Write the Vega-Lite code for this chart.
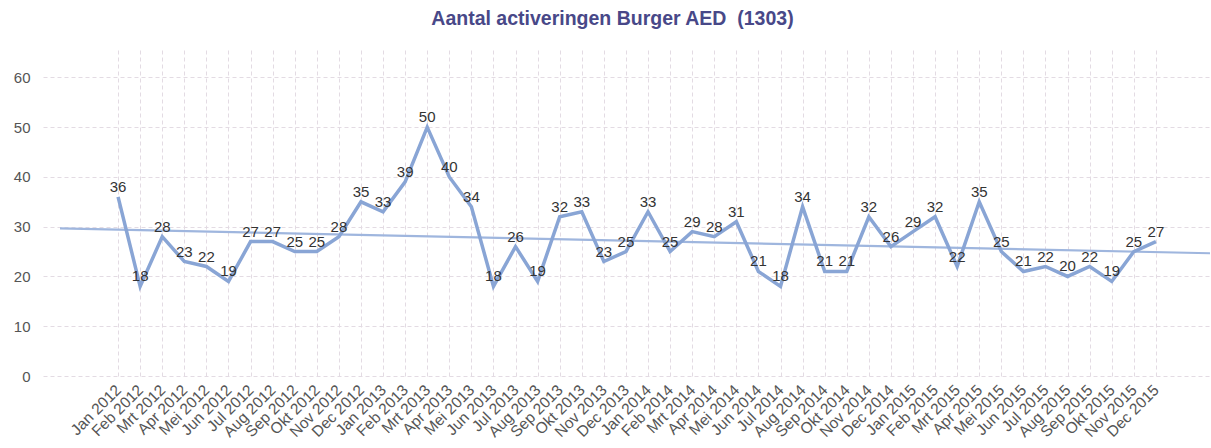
{
  "$schema": "https://vega.github.io/schema/vega-lite/v6.json",
  "autosize": "none",
  "width": 1167,
  "height": 326,
  "padding": {"left": 43, "top": 50, "right": 1, "bottom": 72},
  "background": "white",
  "title": {
    "text": "Aantal activeringen Burger AED \u00a0(1303)",
    "font": "Liberation Sans",
    "fontSize": 19.5,
    "fontWeight": "bold",
    "color": "#484888",
    "offset": 21,
    "dx": -14
  },
  "data": {
    "values": [
      {"i": 0, "month": "Jan 2012", "v": 36}, {"i": 1, "month": "Feb 2012", "v": 18},
      {"i": 2, "month": "Mrt 2012", "v": 28}, {"i": 3, "month": "Apr 2012", "v": 23},
      {"i": 4, "month": "Mei 2012", "v": 22}, {"i": 5, "month": "Jun 2012", "v": 19},
      {"i": 6, "month": "Jul 2012", "v": 27}, {"i": 7, "month": "Aug 2012", "v": 27},
      {"i": 8, "month": "Sep 2012", "v": 25}, {"i": 9, "month": "Okt 2012", "v": 25},
      {"i": 10, "month": "Nov 2012", "v": 28}, {"i": 11, "month": "Dec 2012", "v": 35},
      {"i": 12, "month": "Jan 2013", "v": 33}, {"i": 13, "month": "Feb 2013", "v": 39},
      {"i": 14, "month": "Mrt 2013", "v": 50}, {"i": 15, "month": "Apr 2013", "v": 40},
      {"i": 16, "month": "Mei 2013", "v": 34}, {"i": 17, "month": "Jun 2013", "v": 18},
      {"i": 18, "month": "Jul 2013", "v": 26}, {"i": 19, "month": "Aug 2013", "v": 19},
      {"i": 20, "month": "Sep 2013", "v": 32}, {"i": 21, "month": "Okt 2013", "v": 33},
      {"i": 22, "month": "Nov 2013", "v": 23}, {"i": 23, "month": "Dec 2013", "v": 25},
      {"i": 24, "month": "Jan 2014", "v": 33}, {"i": 25, "month": "Feb 2014", "v": 25},
      {"i": 26, "month": "Mrt 2014", "v": 29}, {"i": 27, "month": "Apr 2014", "v": 28},
      {"i": 28, "month": "Mei 2014", "v": 31}, {"i": 29, "month": "Jun 2014", "v": 21},
      {"i": 30, "month": "Jul 2014", "v": 18}, {"i": 31, "month": "Aug 2014", "v": 34},
      {"i": 32, "month": "Sep 2014", "v": 21}, {"i": 33, "month": "Okt 2014", "v": 21},
      {"i": 34, "month": "Nov 2014", "v": 32}, {"i": 35, "month": "Dec 2014", "v": 26},
      {"i": 36, "month": "Jan 2015", "v": 29}, {"i": 37, "month": "Feb 2015", "v": 32},
      {"i": 38, "month": "Mrt 2015", "v": 22}, {"i": 39, "month": "Apr 2015", "v": 35},
      {"i": 40, "month": "Mei 2015", "v": 25}, {"i": 41, "month": "Jun 2015", "v": 21},
      {"i": 42, "month": "Jul 2015", "v": 22}, {"i": 43, "month": "Aug 2015", "v": 20},
      {"i": 44, "month": "Sep 2015", "v": 22}, {"i": 45, "month": "Okt 2015", "v": 19},
      {"i": 46, "month": "Nov 2015", "v": 25}, {"i": 47, "month": "Dec 2015", "v": 27}
    ]
  },
  "encoding": {
    "x": {
      "field": "i",
      "type": "quantitative",
      "scale": {"domain": [-3.4, 49.45], "nice": false, "zero": false},
      "axis": {
        "title": null,
        "values": [0,1,2,3,4,5,6,7,8,9,10,11,12,13,14,15,16,17,18,19,20,21,22,23,24,25,26,27,28,29,30,31,32,33,34,35,36,37,38,39,40,41,42,43,44,45,46,47],
        "labelExpr": "['Jan','Feb','Mrt','Apr','Mei','Jun','Jul','Aug','Sep','Okt','Nov','Dec'][datum.value % 12] + ' ' + (2012 + floor(datum.value / 12))",
        "labelAngle": -45,
        "labelAlign": "right",
        "labelBaseline": "middle",
        "labelPadding": 11,
        "labelOverlap": false,
        "labelBound": false,
        "labelFlush": false,
        "labelFont": "Liberation Sans",
        "labelFontSize": 15.5,
        "labelColor": "#555555",
        "ticks": false,
        "domain": false,
        "grid": true,
        "gridColor": "#e3dbe3",
        "gridDash": [4, 3],
        "gridWidth": 1
      }
    },
    "y": {
      "field": "v",
      "type": "quantitative",
      "scale": {"domain": [0, 65.5], "nice": false},
      "axis": {
        "title": null,
        "values": [0, 10, 20, 30, 40, 50, 60],
        "ticks": false,
        "domain": false,
        "labelPadding": 13,
        "labelFont": "Liberation Sans",
        "labelFontSize": 15,
        "labelColor": "#555555",
        "grid": true,
        "gridColor": "#e3dbe3",
        "gridDash": [4, 3],
        "gridWidth": 1
      }
    }
  },
  "layer": [
    {
      "transform": [{"regression": "v", "on": "i", "extent": [-2.63, 49.45]}],
      "mark": {"type": "line", "color": "#9fb6de", "strokeWidth": 2.2, "clip": true}
    },
    {
      "mark": {"type": "line", "color": "#89a5d5", "strokeWidth": 3.5}
    },
    {
      "mark": {"type": "text", "baseline": "bottom", "dy": -2, "font": "Liberation Sans", "fontSize": 15, "color": "#333333"},
      "encoding": {"text": {"field": "v", "type": "quantitative"}}
    }
  ],
  "config": {"view": {"stroke": null}}
}
